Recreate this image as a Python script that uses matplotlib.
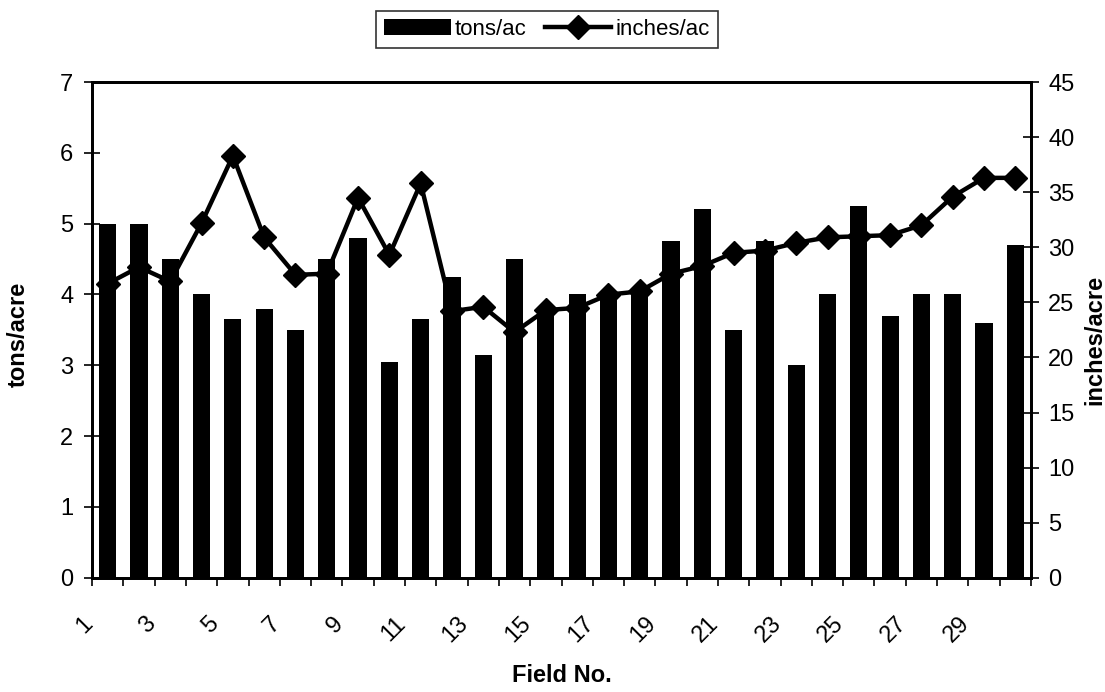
import matplotlib
matplotlib.use("Agg")
import matplotlib.pyplot as plt
from matplotlib.transforms import ScaledTranslation
import numpy as np

fields = list(range(1, 31))
tons = [5.0, 5.0, 4.5, 4.0, 3.65, 3.8, 3.5, 4.5, 4.8, 3.05,
        3.65, 4.25, 3.15, 4.5, 3.8, 4.0, 4.0, 4.0, 4.75, 5.2,
        3.5, 4.75, 3.0, 4.0, 5.25, 3.7, 4.0, 4.0, 3.6, 4.7]
inches = [26.7, 28.2, 26.9, 32.2, 38.3, 30.9, 27.5, 27.6, 34.5, 29.3,
          35.8, 24.2, 24.6, 22.3, 24.3, 24.5, 25.7, 26.0, 27.6, 28.3,
          29.5, 29.7, 30.4, 30.9, 31.0, 31.1, 32.0, 34.6, 36.3, 36.3]
xlabels = [str(n) for n in range(1, 30, 2)]

plt.rcParams['font.family'] = ['Liberation Sans', 'DejaVu Sans']

fig = plt.figure(figsize=(11.05, 6.92), dpi=100)
ax = fig.add_axes([0.0833, 0.165, 0.8497, 0.7165])
ax2 = ax.twinx()

x = np.array(fields)
bars = ax.bar(x, tons, width=0.55, color='black', zorder=2, label='tons/ac')
ln, = ax2.plot(x, inches, color='black', lw=3.2, marker='D', markersize=12,
               zorder=3, label='inches/ac')

ax.set_xlim(0.5, 30.5)
ax.set_ylim(0, 7)
ax2.set_ylim(0, 45)
ax.set_yticks(range(0, 8))
ax2.set_yticks(range(0, 50, 5))

ax.set_xticks(range(1, 30, 2))
ax.set_xticklabels(xlabels, rotation=45, ha='right', va='top',
                   rotation_mode='anchor', fontsize=17)
ax.tick_params(axis='x', which='major', length=0, pad=25)
shift = ScaledTranslation(-0.26, 0, fig.dpi_scale_trans)
for lab in ax.get_xticklabels():
    lab.set_transform(lab.get_transform() + shift)
ax.set_xticks(np.arange(0.5, 31, 1.0), minor=True)
ax.tick_params(axis='x', which='minor', length=6, width=1.2, direction='out')

ax.tick_params(axis='y', labelsize=17, length=11, width=1.2,
               direction='inout', pad=8)
ax2.tick_params(axis='y', labelsize=17, length=11, width=1.2,
                direction='inout', pad=7)

for a in (ax, ax2):
    for s in a.spines.values():
        s.set_linewidth(2)

ax.set_xlabel('Field No.', fontsize=17, fontweight='bold')
ax.xaxis.set_label_coords(0.5, -0.173)
ax.set_ylabel('tons/acre', fontsize=17, fontweight='bold')
ax.yaxis.set_label_coords(-0.066, 0.49)
ax2.set_ylabel('inches/acre', fontsize=17, fontweight='bold')
ax2.yaxis.set_label_coords(1.056, 0.48)

ax2.set_zorder(ax.get_zorder() + 1)
ax2.patch.set_visible(False)

leg = fig.legend([bars, ln], ['tons/ac', 'inches/ac'], loc='upper center',
                 bbox_to_anchor=(0.495, 0.984), ncol=2, fontsize=16,
                 frameon=True, fancybox=False, edgecolor='black',
                 handlelength=3.0, handletextpad=0.2, columnspacing=0.8,
                 borderpad=0.35, borderaxespad=0)
leg.get_frame().set_linewidth(1.2)

fig.savefig('out.png', dpi=100)
